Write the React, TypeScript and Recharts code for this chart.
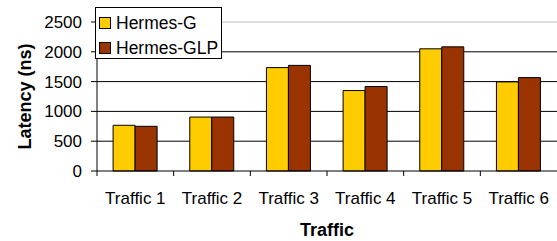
import React from 'react';
import { BarChart, Bar, XAxis, YAxis, CartesianGrid, Legend, ReferenceLine } from 'recharts';

const categories = ['Traffic 1', 'Traffic 2', 'Traffic 3', 'Traffic 4', 'Traffic 5', 'Traffic 6'];
const hermesG = [767, 905, 1735, 1350, 2050, 1495];
const hermesGLP = [750, 905, 1772, 1417, 2083, 1567];
const yTicks = [0, 500, 1000, 1500, 2000, 2500];

const data = categories.map((name, i) => ({ name, g: hermesG[i], glp: hermesGLP[i] }));

const W = 557;
const H = 241;
const FONT = '"Liberation Sans", Arial, sans-serif';
const Y_AXIS_W = 97;
const BAND = (W - Y_AXIS_W) / categories.length;

function TrafficTick(props: any) {
  const { x, y, payload } = props;
  return (
    <g>
      <line x1={x - BAND / 2} x2={x - BAND / 2} y1={y} y2={y + 5} stroke="#000" />
      <text x={x} y={y + 33} textAnchor="middle" fontSize={17} fontFamily={FONT} fill="#000">
        {payload.value}
      </text>
    </g>
  );
}

function LegendBox(props: any) {
  const items = props.payload || [];
  return (
    <div style={{ position: 'relative', width: '100%', height: '100%' }}>
      {items.map((it: any, i: number) => (
        <div
          key={it.value}
          style={{ position: 'absolute', left: 3, top: 9 + i * 25, display: 'flex', alignItems: 'center', height: 12 }}
        >
          <span
            style={{ width: 12, height: 12, boxSizing: 'border-box', border: '1px solid #000', background: it.color, display: 'inline-block' }}
          />
          <span style={{ marginLeft: 5, fontSize: 17.5, fontFamily: FONT, color: '#000', lineHeight: '12px' }}>{it.value}</span>
        </div>
      ))}
    </div>
  );
}

export default function App() {
  return (
    <div style={{ width: W, height: H, background: '#fff' }}>
      <style>{`body{margin:0}`}</style>
      <BarChart
        width={W}
        height={H}
        data={data}
        margin={{ top: 22, right: 0, left: 0, bottom: 0 }}
        barGap={0}
        barCategoryGap="21%"
      >
        <CartesianGrid vertical={false} stroke="#000" horizontalValues={[500, 1000, 1500, 2000]} />
        <ReferenceLine y={2500} stroke="#bdbdbd" />
        <XAxis
          dataKey="name"
          height={70}
          axisLine={{ stroke: '#000' }}
          tickLine={false}
          tickSize={0}
          tickMargin={0}
          interval={0}
          tick={<TrafficTick />}
          label={{
            content: (p: any) => {
              const vb = p.viewBox;
              return (
                <text x={vb.x + vb.width / 2} y={236} textAnchor="middle" fontSize={18} fontWeight="bold" fontFamily={FONT} fill="#000">
                  Traffic
                </text>
              );
            },
          }}
        />
        <YAxis
          width={Y_AXIS_W}
          domain={[0, 2500]}
          ticks={yTicks}
          interval={0}
          axisLine={{ stroke: '#000' }}
          tickLine={{ stroke: '#000' }}
          tickSize={6}
          tickMargin={9}
          tick={{ fontSize: 17, fontFamily: FONT, fill: '#000' }}
          label={{
            content: (p: any) => {
              const vb = p.viewBox;
              const cy = vb.y + vb.height / 2;
              return (
                <text
                  x={25}
                  y={cy}
                  transform={`rotate(-90 25 ${cy})`}
                  textAnchor="middle"
                  dominantBaseline="central"
                  fontSize={18}
                  fontWeight="bold"
                  fontFamily={FONT}
                  fill="#000"
                >
                  Latency (ns)
                </text>
              );
            },
          }}
        />
        <Legend
          layout="vertical"
          align="center"
          verticalAlign="middle"
          content={<LegendBox />}
          wrapperStyle={{
            left: 95,
            top: 7,
            width: 127,
            height: 52,
            border: '1px solid #000',
            background: '#fff',
            boxSizing: 'border-box',
          }}
        />
        <Bar dataKey="g" name="Hermes-G" fill="#FFCC00" stroke="#000" strokeWidth={1} isAnimationActive={false} />
        <Bar dataKey="glp" name="Hermes-GLP" fill="#993300" stroke="#000" strokeWidth={1} isAnimationActive={false} />
      </BarChart>
    </div>
  );
}
